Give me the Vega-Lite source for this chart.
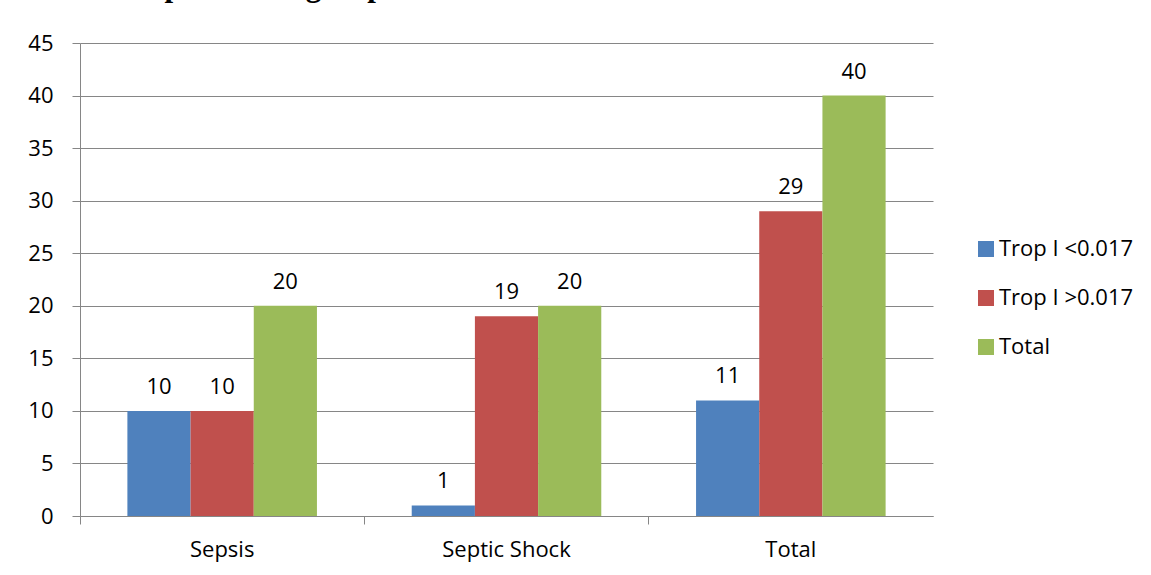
{
  "$schema": "https://vega.github.io/schema/vega-lite/v6.json",
  "autosize": {"type": "none"},
  "width": 853,
  "height": 473,
  "padding": {"left": 80, "top": 43, "right": 218, "bottom": 59},
  "background": "white",
  "title": {
    "text": "d levels in septic shock group:",
    "anchor": "start",
    "frame": "group",
    "font": "Liberation Serif",
    "fontWeight": "bold",
    "fontSize": 31,
    "color": "black",
    "baseline": "alphabetic",
    "offset": 36,
    "dx": -80,
    "dy": 31
  },
  "data": {
    "values": [
      {"group": "Sepsis", "series": "Trop I <0.017", "value": 10},
      {"group": "Sepsis", "series": "Trop I >0.017", "value": 10},
      {"group": "Sepsis", "series": "Total", "value": 20},
      {"group": "Septic Shock", "series": "Trop I <0.017", "value": 1},
      {"group": "Septic Shock", "series": "Trop I >0.017", "value": 19},
      {"group": "Septic Shock", "series": "Total", "value": 20},
      {"group": "Total", "series": "Trop I <0.017", "value": 11},
      {"group": "Total", "series": "Trop I >0.017", "value": 29},
      {"group": "Total", "series": "Total", "value": 40}
    ]
  },
  "encoding": {
    "x": {
      "field": "group", "type": "nominal", "sort": null,
      "scale": {"paddingInner": 0, "paddingOuter": 0},
      "axis": {
        "title": null, "labelAngle": 0, "bandPosition": 0,
        "domainColor": "#868686", "tickColor": "#868686", "tickSize": 8,
        "labelFont": "Open Sans", "labelFontSize": 22, "labelColor": "black",
        "labelPadding": 15, "labelBaseline": "top", "labelBound": false,
        "grid": false
      }
    },
    "xOffset": {
      "field": "series", "type": "nominal",
      "sort": ["Trop I <0.017", "Trop I >0.017", "Total"],
      "scale": {"paddingInner": 0, "paddingOuter": 0.75}
    },
    "y": {
      "field": "value", "type": "quantitative",
      "scale": {"domain": [0, 45], "nice": false},
      "axis": {
        "title": null, "values": [0, 5, 10, 15, 20, 25, 30, 35, 40, 45],
        "domainColor": "#868686", "tickColor": "#868686", "tickSize": 8,
        "gridColor": "#868686", "gridWidth": 1,
        "labelFont": "Open Sans", "labelFontSize": 22, "labelColor": "black",
        "labelPadding": 19
      }
    }
  },
  "layer": [
    {
      "mark": {"type": "bar"},
      "encoding": {
        "color": {
          "field": "series", "type": "nominal",
          "sort": ["Trop I <0.017", "Trop I >0.017", "Total"],
          "scale": {"domain": ["Trop I <0.017", "Trop I >0.017", "Total"], "range": ["#4F81BD", "#C0504D", "#9BBB59"]},
          "legend": {
            "title": null, "orient": "none", "legendX": 895, "legendY": 195,
            "symbolType": "square", "symbolSize": 256, "symbolStrokeWidth": 0,
            "labelFont": "Open Sans", "labelFontSize": 22, "labelColor": "black",
            "rowPadding": 27, "labelOffset": 2
          }
        }
      }
    },
    {
      "mark": {"type": "text", "baseline": "alphabetic", "dy": -17, "font": "Open Sans", "fontSize": 22, "color": "black"},
      "encoding": {"text": {"field": "value", "type": "quantitative"}}
    }
  ],
  "config": {
    "view": {"stroke": null}
  }
}
